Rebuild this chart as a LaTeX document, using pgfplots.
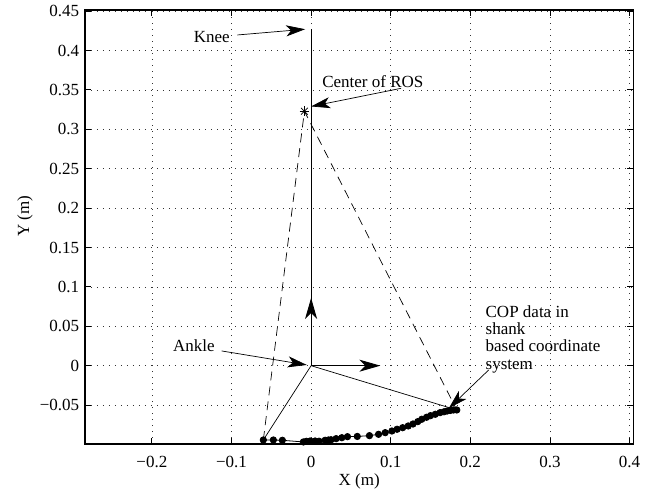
\documentclass[border=0pt]{standalone}
\usepackage{pgfplots}
\pgfplotsset{compat=1.18}
\usepackage{fontspec}
\setmainfont{Liberation Serif}
\usetikzlibrary{arrows.meta}
\newcommand{\fs}{\fontsize{17bp}{17.3bp}\selectfont}
\begin{document}
\fs
\begin{tikzpicture}
\begin{axis}[
  scale only axis, width=548.3bp, height=434bp,
  xmin=-0.284, xmax=0.4047, ymin=-0.0994, ymax=0.4514,
  xtick={-0.2,-0.1,0,0.1,0.2,0.3,0.4},
  xticklabels={−0.2,−0.1,0,0.1,0.2,0.3,0.4},
  ytick={-0.05,0,0.05,0.1,0.15,0.2,0.25,0.3,0.35,0.4,0.45},
  yticklabels={−0.05,0,0.05,0.1,0.15,0.2,0.25,0.3,0.35,0.4,0.45},
  tick align=inside, major tick length=6bp,
  grid=major,
  major grid style={black!80, line width=0.6bp, dash pattern=on 1bp off 5bp},
  axis line style={line width=1.2bp},
  tick style={line width=0.8bp, black},
  every tick label/.style={font=\fs},
  xticklabel style={anchor=base, yshift=-23.7bp},
  yticklabel style={anchor=east},
  xlabel={X (m)}, ylabel={Y (m)},
  xlabel style={font=\fs, at={(axis description cs:0.5,0)}, anchor=base, yshift=-41.7bp},
  ylabel style={font=\fs, at={(axis description cs:-0.1094,0.525)}, anchor=center},
  clip=false,
]
% knee line
\addplot[black, line width=0.8bp, no marks] coordinates {(0,0) (0,0.427)};
% solid lines from ankle to COP extremes
\addplot[black, line width=0.7bp, no marks] coordinates {(-0.060,-0.0943) (0,0) (0.183,-0.0562)};
% dashed lines from center of ROS
\addplot[black, line width=0.7bp, no marks, dash pattern=on 9bp off 6bp] coordinates {(-0.060,-0.0943) (-0.0084,0.323) (0.183,-0.0562)};
% center of ROS marker
\addplot[black, line width=0.7bp, only marks, mark=+, mark size=4.8bp] coordinates {(-0.0084,0.323)};
\addplot[black, line width=0.7bp, only marks, mark=x, mark size=4.8bp] coordinates {(-0.0084,0.323)};
% quiver axes
\addplot[black, line width=0.9bp, no marks, -{Stealth[length=21bp, width=12bp, inset=6bp]}] coordinates {(0,0) (0,0.086)};
\addplot[black, line width=0.9bp, no marks, -{Stealth[length=21bp, width=12bp, inset=6bp]}] coordinates {(0,0) (0.087,0)};
% COP data
\addplot[black, line width=0.8bp, mark=*, mark size=3.2bp] coordinates {
(-0.060,-0.0943) (-0.0474,-0.0943) (-0.0361,-0.0947) (-0.0097,-0.0968)
(-0.0060,-0.0960) (-0.0013,-0.0956) (0.005,-0.0956) (0.010,-0.0959)
(0.0176,-0.0947) (0.0218,-0.0943) (0.025,-0.094) (0.0314,-0.0926)
(0.0386,-0.0914) (0.0457,-0.0901) (0.058,-0.0898) (0.0733,-0.0888)
(0.0847,-0.0871) (0.0931,-0.085) (0.1015,-0.0829) (0.108,-0.0807)
(0.115,-0.0787) (0.122,-0.0765) (0.128,-0.074) (0.134,-0.071)
(0.139,-0.068) (0.145,-0.0655) (0.150,-0.0634) (0.156,-0.0617)
(0.162,-0.0596) (0.167,-0.0585) (0.171,-0.0575) (0.175,-0.0568)
(0.179,-0.0562) (0.183,-0.0562)
};
% annotation arrows
\addplot[black, line width=0.7bp, no marks, -{Stealth[length=19bp, width=11bp, inset=5bp]}] coordinates {(-0.0927,0.4197) (-0.0075,0.427)};
\addplot[black, line width=0.7bp, no marks, -{Stealth[length=19bp, width=11bp, inset=5bp]}] coordinates {(0.113,0.352) (0.0,0.329)};
\addplot[black, line width=0.7bp, no marks, -{Stealth[length=19bp, width=11bp, inset=5bp]}] coordinates {(-0.1123,0.0187) (-0.0054,0.0009)};
\addplot[black, line width=0.7bp, no marks, -{Stealth[length=19bp, width=11bp, inset=5bp]}] coordinates {(0.223,-0.0055) (0.173,-0.054)};
% texts
\node[font=\fs, anchor=east, inner sep=0pt] at (axis cs:-0.102,0.4168) {Knee};
\node[font=\fs, anchor=west, inner sep=0pt] at (axis cs:0.0138,0.361) {Center of ROS};
\node[font=\fs, anchor=east, inner sep=0pt] at (axis cs:-0.121,0.0254) {Ankle};
\node[font=\fs, anchor=north west, inner sep=0pt, align=left] at (axis cs:0.219,0.0765) {COP data in\\shank\\based coordinate\\system};
\end{axis}
\pgfresetboundingbox
\path (current axis.south west) ++(-85bp,-49bp) rectangle ++(655bp,493bp);
\end{tikzpicture}
\end{document}
